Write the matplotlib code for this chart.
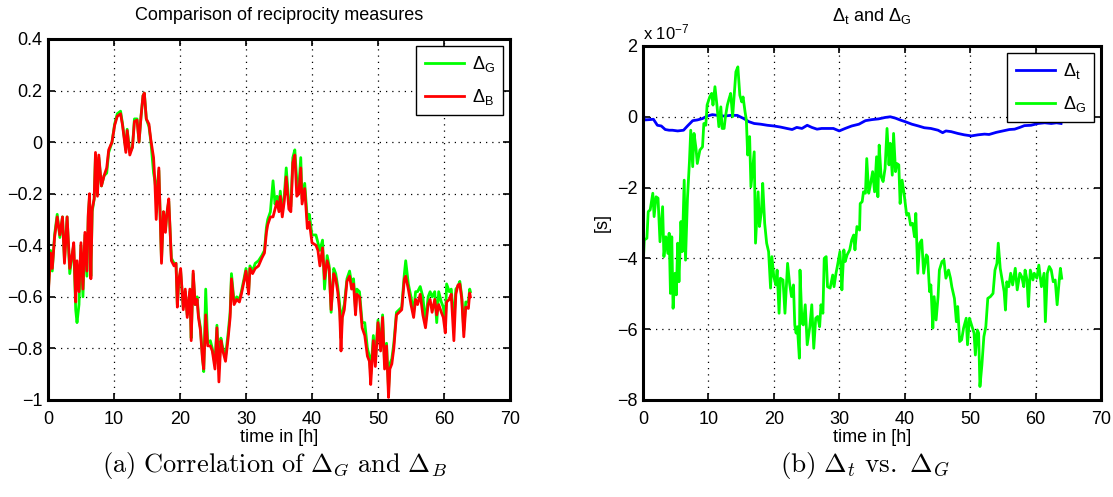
import matplotlib
matplotlib.use('Agg')
import matplotlib.pyplot as plt

plt.rcParams['font.family'] = ['Liberation Sans', 'DejaVu Sans']
plt.rcParams['mathtext.fontset'] = 'custom'
plt.rcParams['mathtext.rm'] = 'Liberation Sans'
plt.rcParams['mathtext.it'] = 'Liberation Sans:italic'
plt.rcParams['mathtext.sf'] = 'Liberation Sans'

# --- (a) reciprocity measures ------------------------------------------------
t_a = [0.0, 0.4, 0.65, 1.0, 1.4, 1.8, 2.2, 2.5, 2.9, 3.3, 3.7, 3.9, 4.2, 4.4, 4.7,
       5.0, 5.3, 5.6, 5.9, 6.1, 6.3, 6.5, 6.7, 7.0, 7.2, 7.5, 7.7, 8.1, 8.5, 8.9,
       9.2, 9.7, 10.1, 10.5, 11.0, 11.3, 11.8, 12.0, 12.4, 12.8, 13.1, 13.5, 13.8, 14.1, 14.4,
       14.6, 14.9, 15.3, 15.6, 16.0, 16.2, 16.4, 16.8, 17.2, 17.5, 17.8, 18.0, 18.3, 18.7, 19.1,
       19.4, 19.6, 19.8, 20.1, 20.5, 20.8, 21.1, 21.5, 21.7, 22.0, 22.3, 22.6, 22.8, 23.1, 23.4,
       23.6, 23.9, 24.2, 24.6, 24.9, 25.3, 25.6, 25.9, 26.2, 26.5, 26.9, 27.3, 27.6, 27.8, 28.2,
       28.6, 29.0, 29.3, 29.7, 30.0, 30.4, 30.6, 31.0, 31.4, 31.9, 32.4, 32.8, 33.1, 33.3, 33.7,
       34.1, 34.4, 34.7, 35.0, 35.2, 35.5, 35.8, 36.1, 36.5, 36.8, 37.1, 37.4, 37.7, 38.0, 38.3,
       38.5, 38.9, 39.3, 39.6, 40.0, 40.6, 40.9, 41.2, 41.6, 41.9, 42.3, 42.6, 42.9, 43.3, 43.6,
       43.9, 44.2, 44.4, 44.6, 44.9, 45.3, 45.7, 46.0, 46.3, 46.6, 46.8, 47.2, 47.6, 48.0, 48.4,
       48.7, 48.9, 49.3, 49.6, 50.0, 50.4, 50.7, 51.0, 51.3, 51.6, 51.8, 52.1, 52.4, 52.8, 53.2,
       53.6, 54.0, 54.2, 54.6, 55.0, 55.4, 55.7, 56.0, 56.4, 56.8, 57.2, 57.6, 57.9, 58.2, 58.6,
       58.9, 59.2, 59.6, 59.9, 60.2, 60.4, 60.8, 61.1, 61.5, 61.8, 62.1, 62.4, 62.7, 63.0, 63.3,
       63.7, 63.9, 64.0]

delta_B = [-0.61, -0.43, -0.49, -0.37, -0.29, -0.36, -0.29, -0.47, -0.29, -0.49, -0.43, -0.39, -0.62, -0.46, -0.58,
           -0.39, -0.57, -0.35, -0.50, -0.28, -0.20, -0.53, -0.26, -0.22, -0.04, -0.21, -0.05, -0.17, -0.13, -0.10,
           -0.03, 0.00, 0.065, 0.10, 0.11, 0.065, -0.04, 0.045, -0.05, -0.02, 0.08, 0.085, 0.00, 0.10, 0.18,
           0.19, 0.09, 0.07, 0.006, -0.06, -0.155, -0.30, -0.10, -0.47, -0.27, -0.35, -0.28, -0.22, -0.46, -0.48,
           -0.47, -0.64, -0.54, -0.49, -0.65, -0.57, -0.68, -0.57, -0.77, -0.50, -0.63, -0.61, -0.68, -0.73, -0.84,
           -0.88, -0.67, -0.79, -0.79, -0.81, -0.88, -0.72, -0.93, -0.77, -0.81, -0.85, -0.76, -0.68, -0.53, -0.63,
           -0.61, -0.62, -0.59, -0.54, -0.50, -0.59, -0.49, -0.51, -0.49, -0.48, -0.45, -0.43, -0.35, -0.32, -0.29,
           -0.29, -0.26, -0.23, -0.27, -0.21, -0.29, -0.23, -0.135, -0.26, -0.27, -0.08, -0.05, -0.21, -0.20, -0.10,
           -0.24, -0.18, -0.335, -0.31, -0.39, -0.40, -0.42, -0.48, -0.41, -0.53, -0.46, -0.49, -0.65, -0.51, -0.53,
           -0.58, -0.66, -0.81, -0.68, -0.65, -0.54, -0.52, -0.57, -0.55, -0.67, -0.59, -0.60, -0.72, -0.75, -0.83,
           -0.85, -0.94, -0.77, -0.87, -0.70, -0.81, -0.68, -0.88, -0.79, -0.99, -0.88, -0.86, -0.80, -0.67, -0.66,
           -0.65, -0.53, -0.52, -0.57, -0.63, -0.68, -0.61, -0.63, -0.59, -0.67, -0.72, -0.63, -0.61, -0.66, -0.61,
           -0.67, -0.63, -0.66, -0.68, -0.74, -0.62, -0.61, -0.59, -0.77, -0.59, -0.555, -0.55, -0.61, -0.755, -0.64,
           -0.645, -0.585, -0.60]

delta_G_a = [-0.60, -0.42, -0.50, -0.36, -0.28, -0.37, -0.29, -0.46, -0.29, -0.51, -0.43, -0.40, -0.65, -0.70, -0.63,
             -0.40, -0.60, -0.36, -0.52, -0.29, -0.21, -0.52, -0.27, -0.22, -0.05, -0.20, -0.06, -0.17, -0.13, -0.12,
             -0.04, 0.00, 0.07, 0.11, 0.12, 0.07, -0.03, 0.05, -0.04, -0.02, 0.09, 0.09, 0.00, 0.10, 0.18,
             0.19, 0.09, 0.06, 0.00, -0.12, -0.15, -0.20, -0.11, -0.46, -0.27, -0.34, -0.28, -0.23, -0.45, -0.47,
             -0.47, -0.63, -0.55, -0.50, -0.64, -0.58, -0.67, -0.58, -0.76, -0.51, -0.63, -0.60, -0.67, -0.72, -0.83,
             -0.89, -0.57, -0.78, -0.77, -0.80, -0.86, -0.71, -0.88, -0.76, -0.80, -0.83, -0.74, -0.66, -0.51, -0.62,
             -0.60, -0.61, -0.58, -0.53, -0.49, -0.58, -0.48, -0.50, -0.47, -0.46, -0.44, -0.42, -0.33, -0.30, -0.27,
             -0.15, -0.24, -0.21, -0.25, -0.19, -0.27, -0.21, -0.10, -0.24, -0.25, -0.06, -0.03, -0.15, -0.18, -0.06,
             -0.22, -0.16, -0.30, -0.28, -0.36, -0.36, -0.39, -0.42, -0.38, -0.57, -0.44, -0.48, -0.66, -0.49, -0.51,
             -0.56, -0.63, -0.76, -0.66, -0.63, -0.53, -0.50, -0.55, -0.53, -0.65, -0.57, -0.58, -0.70, -0.70, -0.80,
             -0.83, -0.90, -0.75, -0.85, -0.69, -0.79, -0.67, -0.86, -0.78, -0.96, -0.86, -0.84, -0.78, -0.66, -0.65,
             -0.64, -0.51, -0.46, -0.55, -0.60, -0.66, -0.58, -0.58, -0.56, -0.60, -0.70, -0.60, -0.58, -0.60, -0.58,
             -0.70, -0.58, -0.62, -0.64, -0.70, -0.55, -0.58, -0.57, -0.70, -0.57, -0.56, -0.54, -0.60, -0.73, -0.62,
             -0.62, -0.57, -0.58]

# --- (b) delta_t and delta_G in units of 1e-7 s ------------------------------
t_g = [0.0, 0.2, 0.6, 0.8, 1.1, 1.5, 1.7, 2.0, 2.3, 2.6, 3.0, 3.2, 3.5, 3.8, 4.0,
       4.2, 4.4, 4.6, 4.9, 5.1, 5.3, 5.5, 5.8, 6.0, 6.3, 6.5, 6.8, 7.1, 7.3, 7.6,
       7.8, 8.1, 8.3, 8.7, 9.1, 9.3, 9.6, 9.8, 10.2, 10.5, 10.7, 11.0, 11.3, 11.6, 11.9,
       12.1, 12.4, 12.6, 12.9, 13.1, 13.4, 13.7, 13.9, 14.2, 14.5, 14.8, 15.1, 15.3, 15.6, 15.8,
       16.0, 16.3, 16.5, 17.0, 17.2, 17.6, 17.8, 18.1, 18.3, 18.6, 18.9, 19.2, 19.5, 19.7, 20.0,
       20.3, 20.5, 20.8, 21.0, 21.4, 21.7, 22.1, 22.4, 22.7, 23.0, 23.2, 23.4, 23.6, 23.9, 24.0,
       24.3, 24.5, 24.8, 25.1, 25.5, 25.8, 26.1, 26.4, 26.7, 27.0, 27.2, 27.5, 27.7, 28.0, 28.2,
       28.6, 29.0, 29.2, 29.5, 29.7, 30.1, 30.3, 30.4, 30.7, 30.9, 31.2, 31.6, 31.9, 32.2, 32.4,
       32.7, 33.1, 33.2, 33.5, 33.7, 34.0, 34.2, 34.5, 34.7, 35.1, 35.4, 35.7, 35.9, 36.1, 36.4,
       36.7, 37.0, 37.3, 37.6, 37.8, 38.1, 38.3, 38.6, 38.8, 39.1, 39.3, 39.6, 39.9, 40.3, 40.6,
       40.9, 41.2, 41.5, 41.7, 42.0, 42.3, 42.6, 42.9, 43.3, 43.5, 43.8, 44.0, 44.3, 44.5, 44.8,
       45.1, 45.3, 45.7, 46.0, 46.3, 46.7, 47.0, 47.2, 47.6, 47.9, 48.1, 48.4, 48.7, 49.0, 49.4,
       49.6, 49.9, 50.3, 50.6, 50.8, 51.1, 51.3, 51.5, 51.8, 52.1, 52.4, 52.7, 53.1, 53.5, 53.8,
       54.1, 54.3, 54.6, 54.9, 55.2, 55.4, 55.6, 55.9, 56.2, 56.5, 56.9, 57.2, 57.6, 57.9, 58.2,
       58.4, 58.7, 58.9, 59.2, 59.6, 59.8, 60.2, 60.5, 60.9, 61.3, 61.5, 61.8, 62.1, 62.4, 62.7,
       63.0, 63.3, 63.6, 63.8, 64.0]

delta_G_b = [-4.28, -3.48, -3.43, -2.68, -2.63, -2.16, -2.82, -2.26, -2.30, -3.53, -2.54, -3.95, -3.39, -3.86, -3.29,
             -4.99, -3.39, -5.41, -4.42, -5.03, -3.57, -4.66, -2.96, -3.81, -1.79, -4.05, -2.30, -1.27, -0.38, -1.41,
             -0.47, -0.89, -1.32, -0.94, -0.85, -0.19, -0.24, 0.33, 0.56, 0.66, 0.33, 0.85, 0.33, -0.28, 0.28,
             -0.33, -0.33, 0.00, 0.33, 0.47, 0.66, 0.00, 0.52, 1.27, 1.41, 0.61, 0.42, 0.56, 0.14, -0.09,
             -1.08, -0.56, -1.98, -0.99, -3.57, -2.12, -3.10, -2.68, -1.88, -3.01, -3.57, -3.81, -4.84, -3.95, -4.52,
             -4.75, -4.33, -5.55, -4.56, -4.61, -5.55, -4.14, -4.70, -5.08, -4.75, -5.88, -6.11, -5.93, -6.82, -4.33,
             -5.83, -5.88, -5.31, -6.44, -5.93, -5.31, -6.54, -5.69, -5.64, -5.93, -5.31, -5.55, -4.00, -3.95, -4.80,
             -4.84, -4.47, -4.80, -4.42, -4.23, -3.81, -4.42, -4.89, -3.76, -4.09, -3.90, -3.76, -3.48, -3.34, -3.76,
             -3.10, -3.20, -2.45, -2.40, -2.12, -2.16, -1.18, -2.16, -1.98, -1.55, -2.12, -1.13, -2.26, -0.80, -1.69,
             -1.83, -1.46, -0.33, -1.36, -0.75, -1.65, -0.47, -1.55, -1.32, -1.36, -2.45, -1.79, -2.16, -2.78, -2.73,
             -3.06, -3.01, -3.39, -2.73, -4.42, -3.57, -3.48, -4.42, -3.90, -3.95, -4.94, -4.75, -5.97, -5.08, -5.74,
             -5.08, -4.33, -4.09, -4.05, -4.56, -4.33, -4.56, -4.80, -5.13, -5.79, -5.36, -6.35, -6.30, -5.97, -5.69,
             -6.44, -5.69, -5.93, -6.11, -6.73, -6.02, -6.11, -7.62, -7.01, -6.21, -5.93, -5.13, -5.08, -4.99, -4.33,
             -4.14, -3.57, -4.28, -4.61, -4.94, -5.46, -4.66, -4.80, -4.42, -4.75, -4.28, -4.89, -4.42, -4.52, -4.80,
             -4.33, -4.61, -5.36, -4.33, -4.61, -4.42, -4.56, -4.19, -4.80, -4.42, -5.79, -4.42, -4.23, -4.33, -4.66,
             -4.61, -5.31, -4.66, -4.28, -4.56]

t_t = [0.0, 0.2, 1.0, 1.6, 2.2, 2.8, 3.4, 4.0, 4.5, 5.3, 6.2, 6.8, 7.6, 8.3, 9.1,
       9.8, 10.6, 11.4, 12.4, 13.4, 14.4, 15.4, 16.2, 17.0, 18.0, 19.0, 20.0, 21.0, 22.0, 22.8,
       23.5, 24.3, 25.1, 25.8, 26.6, 27.3, 28.4, 29.1, 30.0, 30.9, 31.9, 33.0, 34.0, 35.0, 36.0,
       37.0, 37.8, 38.6, 39.3, 40.1, 41.1, 42.1, 43.0, 44.0, 45.1, 45.8, 46.3, 47.1, 48.1, 49.1,
       50.2, 51.2, 52.2, 52.9, 54.0, 55.0, 56.0, 56.8, 57.6, 58.3, 59.3, 60.4, 61.4, 62.4, 63.2,
       63.9]

delta_t = [0.17, -0.09, -0.08, -0.07, -0.24, -0.26, -0.36, -0.38, -0.38, -0.40, -0.38, -0.26, -0.11, -0.09, -0.05,
           0.02, 0.06, 0.04, 0.02, 0.04, 0.04, -0.05, -0.14, -0.19, -0.21, -0.24, -0.26, -0.29, -0.33, -0.36,
           -0.30, -0.33, -0.24, -0.30, -0.35, -0.33, -0.33, -0.33, -0.40, -0.33, -0.26, -0.21, -0.11, -0.08, -0.06,
           -0.02, 0.00, -0.04, -0.09, -0.14, -0.21, -0.26, -0.31, -0.33, -0.38, -0.45, -0.40, -0.42, -0.47, -0.51,
           -0.54, -0.51, -0.49, -0.50, -0.44, -0.40, -0.36, -0.35, -0.30, -0.25, -0.24, -0.19, -0.17, -0.19, -0.17,
           -0.19]

x_ticks = [0, 10, 20, 30, 40, 50, 60, 70]
y_ticks_a = [-1, -0.8, -0.6, -0.4, -0.2, 0, 0.2, 0.4]
y_labels_a = ['\u22121', '\u22120.8', '\u22120.6', '\u22120.4', '\u22120.2', '0', '0.2', '0.4']
y_ticks_b = [-8, -6, -4, -2, 0, 2]
y_labels_b = ['\u22128', '\u22126', '\u22124', '\u22122', '0', '2']

FS = 13


def matlab_axes(ax):
    for s in ax.spines.values():
        s.set_linewidth(2.2)
    ax.tick_params(direction='in', top=True, right=True, length=5, width=1.2,
                   labelsize=FS, pad=4)
    ax.tick_params(axis='x', pad=8)
    ax.grid(True, color='k', linestyle=(0, (1, 4)), linewidth=0.9)
    ax.set_xlim(0, 70)
    ax.set_xticks(x_ticks)
    ax.set_xlabel('time in [h]', fontsize=FS, labelpad=1)


def matlab_legend(ax):
    leg = ax.legend(loc='upper right', fontsize=FS, handlelength=2.2, handletextpad=0.4,
                    labelspacing=0.7, borderpad=0.45, borderaxespad=0.4,
                    fancybox=False, framealpha=1, edgecolor='k')
    leg.get_frame().set_linewidth(1.0)
    return leg


fig = plt.figure(figsize=(11.13, 4.97), dpi=100)

ax = fig.add_axes([0.0431, 0.1952, 0.4151, 0.7264])
ax.plot(t_a, delta_G_a, color='#00ff00', lw=2.0, label=r'$\Delta_\mathrm{G}$')
ax.plot(t_a, delta_B, color='#ff0000', lw=2.0, label=r'$\Delta_\mathrm{B}$')
matlab_axes(ax)
ax.set_ylim(-1, 0.4)
ax.set_yticks(y_ticks_a)
ax.set_yticklabels(y_labels_a)
ax.set_title('Comparison of reciprocity measures', fontsize=FS, pad=14)
matlab_legend(ax)

ax2 = fig.add_axes([0.5777, 0.1952, 0.4115, 0.7123])
ax2.plot(t_t, delta_t, color='#0000ff', lw=2.0, label=r'$\Delta_\mathrm{t}$')
ax2.plot(t_g, delta_G_b, color='#00ff00', lw=2.0, label=r'$\Delta_\mathrm{G}$')
matlab_axes(ax2)
ax2.set_ylim(-8, 2)
ax2.set_yticks(y_ticks_b)
ax2.set_yticklabels(y_labels_b)
ax2.set_ylabel('[s]', fontsize=FS, labelpad=4)
ax2.set_title(r'$\Delta_\mathrm{t}$ and $\Delta_\mathrm{G}$', fontsize=FS, pad=18)
ax2.text(0.0, 1.01, r'x 10$^{-7}$', transform=ax2.transAxes, fontsize=FS - 1,
         ha='left', va='bottom')
matlab_legend(ax2)

# sub-figure captions
fig.text(0.247, 0.064, r'$\mathrm{(a)\ Correlation\ of\ }\Delta_G\mathrm{\ and\ }\Delta_B$',
         fontsize=19, ha='center', va='center', math_fontfamily='cm')
fig.text(0.777, 0.064, r'$\mathrm{(b)\ }\Delta_t\mathrm{\ vs.\ }\Delta_G$',
         fontsize=19.5, ha='center', va='center', math_fontfamily='cm')

fig.savefig('out.png', dpi=100)
